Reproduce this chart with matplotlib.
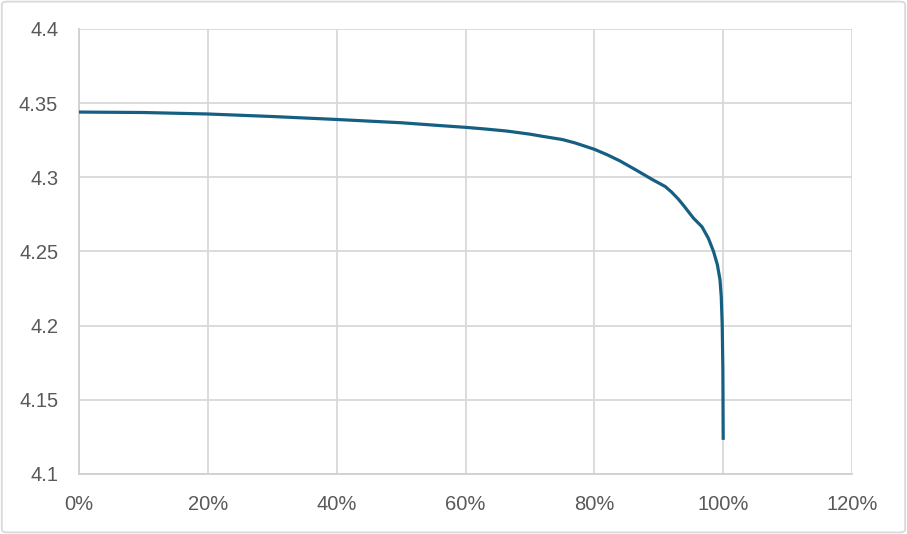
import matplotlib
matplotlib.use("Agg")
import matplotlib.pyplot as plt
from matplotlib.ticker import FuncFormatter, MultipleLocator
from matplotlib.patches import FancyBboxPatch

capacity_pct = [0, 10, 20, 30, 40, 50, 56, 60, 63, 66.4, 70, 72, 75, 77, 80, 82,
                84, 86.6, 89, 91, 92, 93, 93.8, 95.4, 96.7, 97.7, 98.5, 99.1,
                99.5, 99.7, 99.85, 99.95, 100]
voltage = [4.344, 4.3437, 4.3427, 4.341, 4.339, 4.3368, 4.3349, 4.3337, 4.3326,
           4.3312, 4.3291, 4.3276, 4.3255, 4.3232, 4.3189, 4.3152, 4.311, 4.3046,
           4.2985, 4.2938, 4.2900, 4.2855, 4.2813, 4.2724, 4.2667, 4.2589, 4.25,
           4.241, 4.231, 4.2195, 4.2, 4.17, 4.123]

x_frac = [p / 100 for p in capacity_pct]

plt.rcParams['font.family'] = ['Liberation Sans', 'DejaVu Sans']

fig = plt.figure(figsize=(9.07, 5.34), dpi=100)
ax = fig.add_axes([0.0871, 0.1124, 0.9394 - 0.0871, 0.9457 - 0.1124])

ax.plot(x_frac, voltage, color='#156082', lw=2.3, solid_joinstyle='round',
        solid_capstyle='butt', zorder=3)

ax.set_xlim(0, 1.2)
ax.set_ylim(4.1, 4.4)
ax.xaxis.set_major_locator(MultipleLocator(0.2))
ax.yaxis.set_major_locator(MultipleLocator(0.05))
ax.xaxis.set_major_formatter(FuncFormatter(lambda v, p: f"{v*100:.0f}%"))
ax.yaxis.set_major_formatter(FuncFormatter(lambda v, p: f"{v:g}"))

ax.grid(True, color='#D9D9D9', lw=1.3, zorder=0)
ax.set_axisbelow(True)
for s in ['top', 'right']:
    ax.spines[s].set_visible(False)
for s in ['left', 'bottom']:
    ax.spines[s].set_color('#D0D0D0')
    ax.spines[s].set_linewidth(1.3)
ax.tick_params(length=0, labelsize=14.5, colors='#595959')
ax.tick_params(axis='x', pad=15)
ax.tick_params(axis='y', pad=15)

border = FancyBboxPatch((0.002, 0.003), 0.996, 0.994, boxstyle='round,pad=0,rounding_size=0.006',
                        transform=fig.transFigure, facecolor='none',
                        edgecolor='#D9D9D9', lw=1.3)
fig.patches.append(border)

fig.savefig('out.png', dpi=100)
